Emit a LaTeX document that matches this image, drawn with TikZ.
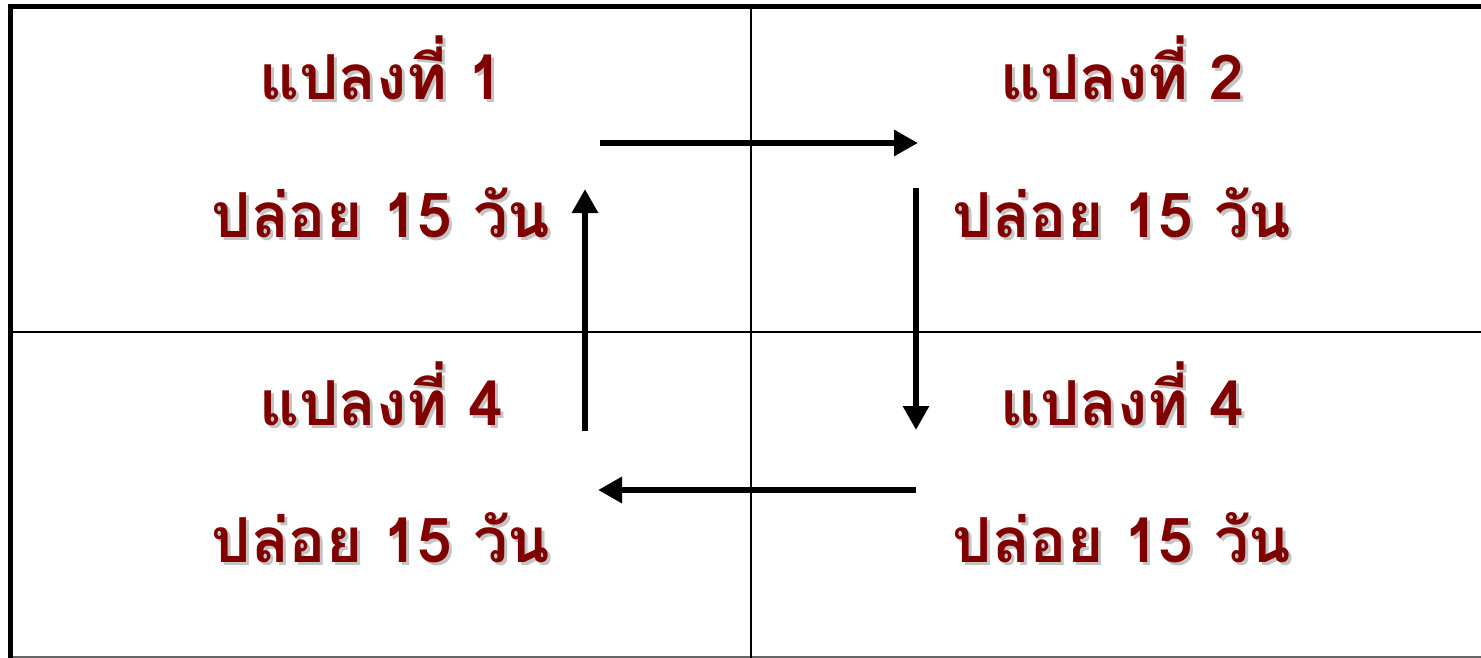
\documentclass[tikz,border=0pt]{standalone}
\usepackage{fontspec}
\usetikzlibrary{arrows.meta}
\newfontfamily\thaifont[Script=Thai]{Loma}
\definecolor{textred}{HTML}{800000}
\definecolor{shadowgray}{HTML}{C4C4C4}
\newcommand\shtext[1]{\leavevmode\rlap{\hspace{3pt}\raisebox{-3pt}{\textcolor{shadowgray}{#1}}}#1}
\tikzset{
  label/.style={anchor=base, inner sep=0pt, text=textred, font=\thaifont\bfseries\fontsize{62}{68}\selectfont},
  grid/.style={line width=2.5pt, black},
  frame/.style={line width=5pt, black},
  flow/.style={line width=6.5pt, -{Triangle[length=24pt,width=25pt]}},
}
\begin{document}
\begin{tikzpicture}[x=1pt,y=-1pt]
\useasboundingbox (0,0) rectangle (1481,658);
\fill[white] (0,0) rectangle (1481,658);
% frame and grid
\draw[line width=2pt, black!60] (8,657) -- (1481,657);
\draw[grid] (751,6) -- (751,658);
\draw[grid] (10,332) -- (1481,332);
\draw[frame] (10.5,4) -- (10.5,658);
\draw[frame] (8,6.5) -- (1481,6.5);
% texts
\node[label] (p1a) at (381,100) {\shtext{แปลงที่ 1}};
\node[label] (p1b) at (381,237) {\shtext{ปล่อย 15 วัน}};
\node[label] (p2a) at (1122,100) {\shtext{แปลงที่ 2}};
\node[label] (p2b) at (1122,237) {\shtext{ปล่อย 15 วัน}};
\node[label] (p3a) at (381,425) {\shtext{แปลงที่ 4}};
\node[label] (p3b) at (381,562) {\shtext{ปล่อย 15 วัน}};
\node[label] (p4a) at (1122,425) {\shtext{แปลงที่ 4}};
\node[label] (p4b) at (1122,562) {\shtext{ปล่อย 15 วัน}};
% arrow ends
\coordinate (a1s) at (600,143);
\coordinate (a1e) at (918,143);
\coordinate (a2s) at (916,188);
\coordinate (a2e) at (916,430);
\coordinate (a3s) at (916,490);
\coordinate (a3e) at (598,490);
\coordinate (a4s) at (585,431);
\coordinate (a4e) at (585,189);
\draw[flow] (a1s) -- (a1e);
\draw[flow] (a2s) -- (a2e);
\draw[flow] (a3s) -- (a3e);
\draw[flow] (a4s) -- (a4e);
\end{tikzpicture}
\end{document}
